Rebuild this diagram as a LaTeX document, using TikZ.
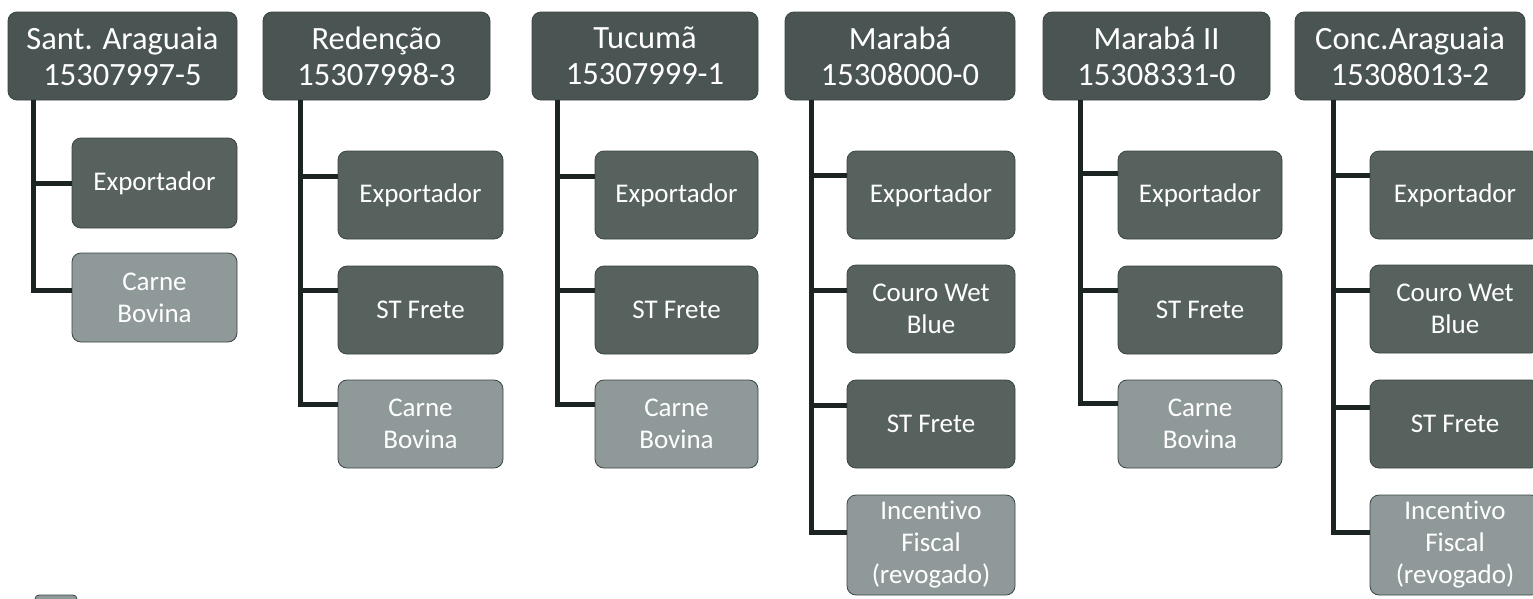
\documentclass[tikz,border=0pt]{standalone}
\usepackage{fontspec}
\setmainfont{Carlito}[Ligatures={NoCommon}]
\definecolor{hdrfill}{HTML}{4A5553}
\definecolor{darkfill}{HTML}{57625F}
\definecolor{lightfill}{HTML}{8F9999}
\definecolor{edgecol}{HTML}{3A4442}
\definecolor{conncol}{HTML}{1C2423}
\tikzset{
  basebox/.style={rounded corners=9pt, draw=edgecol, line width=0.8pt, inner sep=0pt, align=center, text=white},
  hdr/.style={basebox, fill=hdrfill, minimum height=88pt, font=\fontsize{32.5}{36}\selectfont},
  darkbox/.style={basebox, fill=darkfill, minimum height=88pt, font=\fontsize{27}{32}\selectfont},
  lightbox/.style={basebox, fill=lightfill, minimum height=88pt, font=\fontsize{27}{32}\selectfont},
  conn/.style={draw=conncol, line width=5pt}
}
\begin{document}
\begin{tikzpicture}[x=1pt, y=-1pt]
\useasboundingbox[fill=white] (0,0) rectangle (1533,598);

% headers
\node[hdr, minimum width=229pt] (h1) at (122.5,56) {Sant. Araguaia\\15307997-5};
\node[hdr, minimum width=227pt] (h2) at (376.5,56) {Redenção\\15307998-3};
\node[hdr, minimum width=226pt] (h3) at (645,56) {Tucumã\\15307999-1};
\node[hdr, minimum width=230pt] (h4) at (900,56) {Marabá\\15308000-0};
\node[hdr, minimum width=227pt] (h5) at (1156.5,56) {Marabá II\\15308331-0};
\node[hdr, minimum width=230pt] (h6) at (1410,56) {Conc.Araguaia\\15308013-2};

% column 1
\node[darkbox, minimum width=165pt, minimum height=90pt] (c11) at (154.5,183) {Exportador};
\node[lightbox, minimum width=165pt, minimum height=89pt] (c12) at (154.5,297.5) {Carne\\Bovina};

% column 2
\node[darkbox, minimum width=165pt] (c21) at (420.5,195) {Exportador};
\node[darkbox, minimum width=165pt] (c22) at (420.5,310) {ST Frete};
\node[lightbox, minimum width=165pt] (c23) at (420.5,424) {Carne\\Bovina};

% column 3
\node[darkbox, minimum width=163pt] (c31) at (676.5,195) {Exportador};
\node[darkbox, minimum width=163pt] (c32) at (676.5,310) {ST Frete};
\node[lightbox, minimum width=163pt] (c33) at (676.5,424) {Carne\\Bovina};

% column 4
\node[darkbox, minimum width=168pt] (c41) at (931,195) {Exportador};
\node[darkbox, minimum width=168pt] (c42) at (931,309) {Couro Wet\\Blue};
\node[darkbox, minimum width=168pt] (c43) at (931,424) {ST Frete};
\node[lightbox, minimum width=168pt, minimum height=100pt] (c44) at (931,545) {Incentivo\\Fiscal\\(revogado)};

% column 5
\node[darkbox, minimum width=164pt] (c51) at (1200,195) {Exportador};
\node[darkbox, minimum width=164pt] (c52) at (1200,310) {ST Frete};
\node[lightbox, minimum width=164pt] (c53) at (1200,424) {Carne\\Bovina};

% column 6
\node[darkbox, minimum width=170pt] (c61) at (1455,195) {Exportador};
\node[darkbox, minimum width=170pt] (c62) at (1455,309) {Couro Wet\\Blue};
\node[darkbox, minimum width=170pt] (c63) at (1455,424) {ST Frete};
\node[lightbox, minimum width=170pt, minimum height=100pt] (c64) at (1455,545) {Incentivo\\Fiscal\\(revogado)};

% fragment at bottom left
\node[lightbox, minimum width=42pt, minimum height=20pt, rounded corners=4pt] (frag) at (56,605) {};

% spine coordinates
\coordinate (v1) at (33,0);
\coordinate (v2) at (300,0);
\coordinate (v3) at (557,0);
\coordinate (v4) at (811,0);
\coordinate (v5) at (1080,0);
\coordinate (v6) at (1333,0);

% connectors
\draw[conn] (v1 |- h1.south) |- (c11.west);
\draw[conn] (v1 |- h1.south) |- ([yshift=7.5pt]c12.west);

\draw[conn] (v2 |- h2.south) |- ([yshift=19pt]c21.west);
\draw[conn] (v2 |- h2.south) |- ([yshift=20pt]c22.west);
\draw[conn] (v2 |- h2.south) |- ([yshift=20pt]c23.west);

\draw[conn] (v3 |- h3.south) |- ([yshift=19pt]c31.west);
\draw[conn] (v3 |- h3.south) |- ([yshift=20pt]c32.west);
\draw[conn] (v3 |- h3.south) |- ([yshift=20pt]c33.west);

\draw[conn] (v4 |- h4.south) |- ([yshift=20pt]c41.west);
\draw[conn] (v4 |- h4.south) |- ([yshift=19pt]c42.west);
\draw[conn] (v4 |- h4.south) |- ([yshift=19pt]c43.west);
\draw[conn] (v4 |- h4.south) |- ([yshift=13pt]c44.west);

\draw[conn] (v5 |- h5.south) |- ([yshift=22pt]c51.west);
\draw[conn] (v5 |- h5.south) |- ([yshift=20pt]c52.west);
\draw[conn] (v5 |- h5.south) |- ([yshift=21pt]c53.west);

\draw[conn] (v6 |- h6.south) |- ([yshift=20pt]c61.west);
\draw[conn] (v6 |- h6.south) |- ([yshift=19pt]c62.west);
\draw[conn] (v6 |- h6.south) |- ([yshift=17pt]c63.west);
\draw[conn] (v6 |- h6.south) |- ([yshift=13pt]c64.west);
\end{tikzpicture}
\end{document}
